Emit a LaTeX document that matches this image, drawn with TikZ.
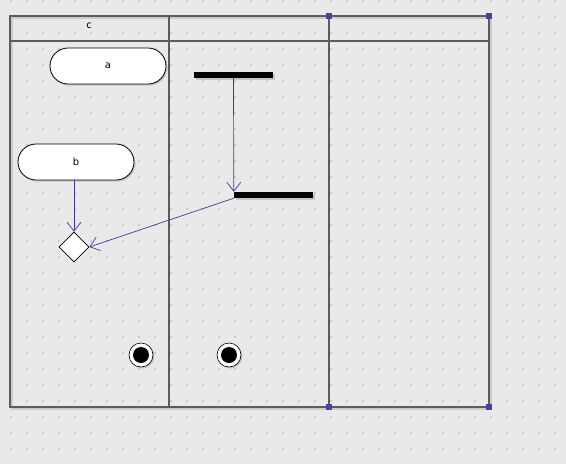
\documentclass[tikz,border=0pt]{standalone}
\usepackage{fontspec}
\setsansfont{DejaVu Sans}
\usetikzlibrary{shapes.misc,shapes.geometric,arrows.meta,shadows}
\definecolor{canvas}{HTML}{E9E9E9}
\definecolor{griddot}{HTML}{CBCBCB}
\definecolor{laneline}{HTML}{5C5C5C}
\definecolor{flowblue}{HTML}{3C3C9C}
\definecolor{handle}{HTML}{4343A3}
\begin{document}
\begin{tikzpicture}[
    x=1pt, y=-1pt,
    every node/.style={font=\sffamily\fontsize{10}{11}\selectfont},
    shade/.style={drop shadow={shadow xshift=1.5pt,shadow yshift=-1.5pt,opacity=0.35}},
    action/.style={rounded rectangle,draw,fill=white,shade,line width=0.8pt,
      minimum width=116pt,minimum height=36pt,inner sep=0pt},
    bar/.style={rectangle,fill=black,shade,minimum width=79pt,minimum height=6pt,inner sep=0pt},
    decision/.style={diamond,draw,fill=white,line width=0.6pt,minimum size=30pt,inner sep=0pt},
    final/.style={circle,draw,fill=white,shade,line width=0.6pt,minimum size=24pt,inner sep=0pt,
      path picture={\fill[black] (path picture bounding box.center) circle (8pt);}},
    flow/.style={draw=flowblue,line width=0.7pt,-{Straight Barb[length=9pt,width=14pt]}},
    lane/.style={draw=laneline,line width=1.6pt},
    grip/.style={rectangle,fill=handle,minimum size=6pt,inner sep=0pt}
  ]
  % canvas and dot grid
  \fill[canvas] (0,0) rectangle (566,464);
  \useasboundingbox (0,0) rectangle (566,464);
  \foreach \gx in {11,27,...,555}
    \foreach \gy in {1,17,...,449}
      \fill[griddot] (\gx-0.8,\gy-0.8) rectangle (\gx+0.8,\gy+0.8);

  % swimlanes
  \draw[lane,draw=black!20,line width=2.5pt] (12,18) rectangle (491,409);
  \draw[lane] (10,16) rectangle (489,407);
  \draw[lane] (10,41) -- (489,41);
  \draw[lane] (169,16) -- (169,407);
  \draw[lane] (329,16) -- (329,407);
  \node (lanec) at (89,26) {c};

  % handles
  \node[grip] (h1) at (329,16) {};
  \node[grip] (h2) at (489,16) {};
  \node[grip] (h3) at (329,407) {};
  \node[grip] (h4) at (489,407) {};

  % nodes
  \node[action] (a) at (108,66) {a};
  \node[action] (b) at (76,162) {b};
  \node[bar] (fork) at (233.5,75) {};
  \node[bar] (join) at (273.5,195) {};
  \node[decision] (merge) at (74,247) {};
  \node[final] (end1) at (141,355) {};
  \node[final] (end2) at (229,355) {};

  % flows
  \draw[flow] (fork.south) -- (join.north west);
  \draw[flow] (join.south west) -- (merge.east);
  \draw[flow] (b.south -| merge.north) -- (merge.north);
\end{tikzpicture}
\end{document}
